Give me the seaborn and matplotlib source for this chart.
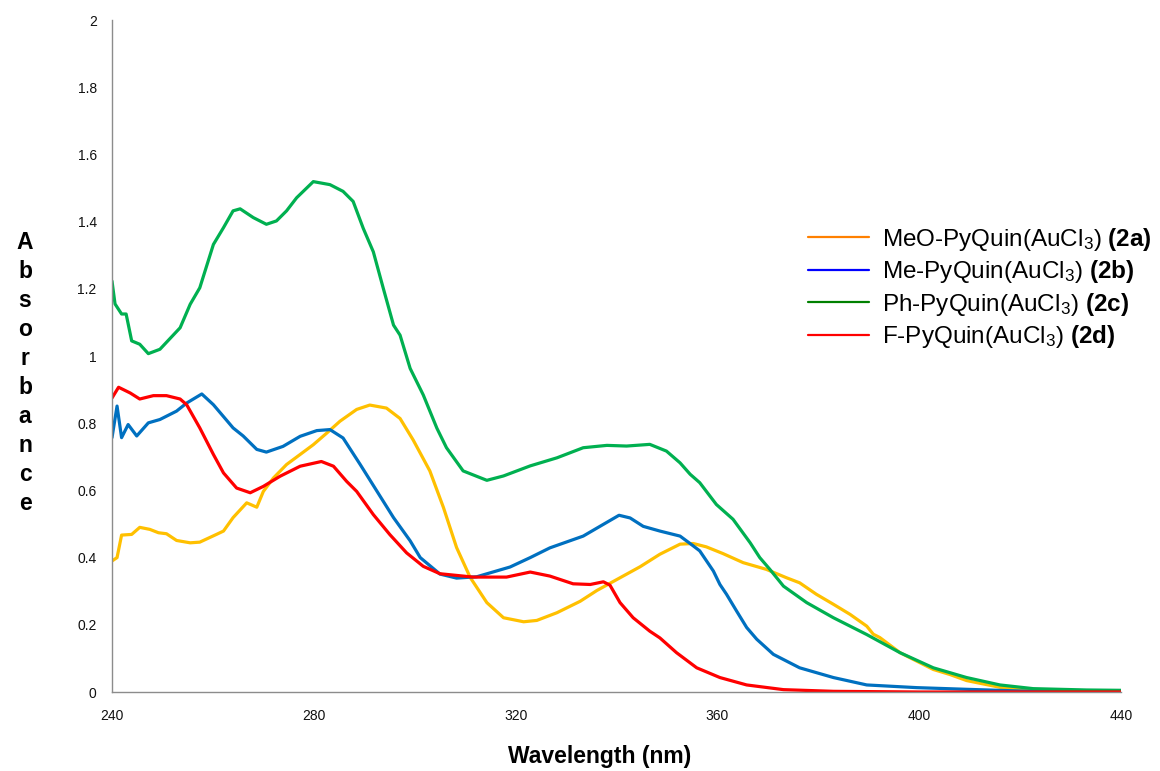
import numpy as np
import pandas as pd
import matplotlib
matplotlib.use("Agg")
import matplotlib.pyplot as plt
from matplotlib.lines import Line2D
import seaborn as sns

# ---------------- data ----------------
wl_2a = [240, 241, 241.9, 243.9, 245.5, 247.5, 249.2, 250.8, 252.8, 255.5, 257.4, 260.7, 262.1, 264.0,
         266.7, 268.7, 270.0, 272.0, 274.6, 277.3, 279.9, 282.6, 285.2, 288.5, 291.1, 294.4, 297.1,
         299.7, 303.0, 305.7, 308.3, 311.0, 314.3, 317.6, 321.6, 324.2, 328.2, 332.8, 336.1, 340.7,
         344.7, 348.6, 352.6, 355.2, 357.8, 361.1, 365.1, 369.7, 373.7, 376.3, 379.6, 383.0, 386.3,
         389.6, 390.9, 392.2, 396.2, 399.5, 402.8, 406.1, 409.4, 416.0, 422.6, 430, 440]
abs_2a = [0.39, 0.40, 0.467, 0.469, 0.49, 0.484, 0.474, 0.471, 0.451, 0.444, 0.446, 0.469, 0.479, 0.519,
          0.563, 0.550, 0.597, 0.637, 0.677, 0.707, 0.736, 0.771, 0.806, 0.841, 0.854, 0.845, 0.814,
          0.750, 0.658, 0.549, 0.430, 0.341, 0.266, 0.221, 0.209, 0.213, 0.236, 0.270, 0.302, 0.340,
          0.373, 0.410, 0.440, 0.442, 0.432, 0.412, 0.385, 0.365, 0.340, 0.325, 0.291, 0.261, 0.231,
          0.196, 0.172, 0.162, 0.117, 0.092, 0.067, 0.052, 0.034, 0.014, 0.005, 0.002, 0.001]

wl_2b = [240, 241, 241.9, 243.2, 244.9, 247.2, 249.5, 252.8, 254.8, 257.8, 260.1, 264.0, 266.0, 268.7,
         270.6, 273.9, 277.3, 280.6, 283.2, 285.8, 289.2, 292.5, 295.8, 299.1, 301.1, 305.0, 308.3,
         312.3, 318.9, 322.9, 326.8, 333.4, 337.4, 340.5, 342.7, 345.3, 348.6, 352.6, 355.2, 356.5,
         359.2, 360.5, 361.8, 363.8, 365.8, 367.8, 371.1, 376.3, 383.0, 389.6, 399.5, 409.4, 420, 440]
abs_2b = [0.757, 0.851, 0.757, 0.796, 0.762, 0.801, 0.811, 0.836, 0.860, 0.887, 0.855, 0.786, 0.762, 0.722,
          0.714, 0.731, 0.761, 0.778, 0.781, 0.756, 0.677, 0.598, 0.519, 0.450, 0.400, 0.351, 0.339,
          0.343, 0.372, 0.400, 0.429, 0.464, 0.499, 0.526, 0.518, 0.493, 0.479, 0.464, 0.435, 0.420,
          0.360, 0.320, 0.291, 0.241, 0.192, 0.157, 0.112, 0.072, 0.043, 0.021, 0.013, 0.008, 0.003, 0.001]

wl_2c = [240, 240.6, 241.9, 242.8, 243.9, 245.5, 247.2, 249.5, 253.5, 255.5, 257.4, 260.1, 262.1, 264.0,
         265.4, 268.0, 270.6, 272.6, 274.6, 276.6, 279.9, 283.2, 285.8, 287.8, 289.8, 291.8, 293.8,
         295.8, 297.1, 299.1, 301.7, 304.4, 306.3, 309.6, 314.3, 317.6, 322.9, 328.2, 333.4, 338.1,
         342.0, 346.6, 349.9, 352.6, 354.6, 356.5, 359.8, 363.1, 366.5, 368.4, 370.4, 373.1, 377.7,
         383.0, 389.6, 396.2, 402.8, 409.4, 416.0, 422.6, 433.2, 440]
abs_2c = [1.223, 1.155, 1.125, 1.125, 1.045, 1.035, 1.007, 1.020, 1.084, 1.154, 1.203, 1.332, 1.382, 1.432,
          1.438, 1.412, 1.392, 1.402, 1.432, 1.471, 1.519, 1.510, 1.490, 1.460, 1.380, 1.310, 1.200,
          1.092, 1.062, 0.963, 0.884, 0.785, 0.727, 0.658, 0.630, 0.643, 0.673, 0.697, 0.727, 0.734,
          0.732, 0.737, 0.717, 0.682, 0.648, 0.623, 0.558, 0.514, 0.444, 0.400, 0.365, 0.315, 0.266,
          0.221, 0.171, 0.117, 0.072, 0.043, 0.021, 0.010, 0.006, 0.005]

wl_2d = [240, 241.3, 243.6, 245.5, 248.2, 250.8, 253.5, 254.8, 257.4, 260.1, 262.1, 264.7, 267.4, 270.0,
         273.3, 277.3, 281.5, 283.9, 286.5, 288.5, 291.8, 295.1, 298.4, 301.7, 305.0, 311.6, 318.2,
         322.9, 326.8, 331.4, 334.8, 337.4, 338.7, 340.7, 343.3, 346.6, 348.6, 351.9, 355.9, 360.5,
         365.8, 373.1, 383.0, 400, 440]
abs_2d = [0.875, 0.907, 0.890, 0.872, 0.882, 0.882, 0.872, 0.855, 0.786, 0.707, 0.652, 0.607, 0.593, 0.612,
          0.642, 0.672, 0.686, 0.672, 0.627, 0.597, 0.528, 0.468, 0.414, 0.374, 0.352, 0.342, 0.342,
          0.357, 0.345, 0.322, 0.320, 0.328, 0.318, 0.266, 0.221, 0.181, 0.161, 0.117, 0.072, 0.043,
          0.021, 0.007, 0.002, 0.0, 0.0]

series_labels = ["MeO-PyQuin(AuCl$_3$) $\\mathbf{(2a)}$",
                 "Me-PyQuin(AuCl$_3$) $\\mathbf{(2b)}$",
                 "Ph-PyQuin(AuCl$_3$) $\\mathbf{(2c)}$",
                 "F-PyQuin(AuCl$_3$) $\\mathbf{(2d)}$"]
x_ticks = [240, 280, 320, 360, 400, 440]
y_ticks = [0, 0.2, 0.4, 0.6, 0.8, 1.0, 1.2, 1.4, 1.6, 1.8, 2.0]
y_tick_labels = ["0", "0.2", "0.4", "0.6", "0.8", "1", "1.2", "1.4", "1.6", "1.8", "2"]

curve_colors = ["#FFC000", "#0070C0", "#00B050", "#FF0000"]
legend_colors = ["#FF8000", "#0000FF", "#008000", "#FF0000"]

# ---------------- style ----------------
sns.set_style("white")
plt.rcParams['font.family'] = ['Liberation Sans', 'DejaVu Sans']
plt.rcParams['text.color'] = 'black'
plt.rcParams['mathtext.fontset'] = 'custom'
plt.rcParams['mathtext.rm'] = 'Liberation Sans'
plt.rcParams['mathtext.it'] = 'Liberation Sans:italic'
plt.rcParams['mathtext.bf'] = 'Liberation Sans:bold'

fig = plt.figure(figsize=(11.6, 7.71), dpi=100)
ax = fig.add_axes([112 / 1160, 1 - 692 / 771, (1121 - 112) / 1160, (692 - 20) / 771])

all_wl = [wl_2a, wl_2b, wl_2c, wl_2d]
all_abs = [abs_2a, abs_2b, abs_2c, abs_2d]
for wl, ab, col in zip(all_wl, all_abs, curve_colors):
    df = pd.DataFrame({"wl": wl, "abs": ab})
    sns.lineplot(data=df, x="wl", y="abs", color=col, linewidth=2.3, ax=ax,
                 legend=False, estimator=None, sort=False)

ax.set_xlim(240, 440)
ax.set_ylim(0, 2)
ax.set_xticks(x_ticks)
ax.set_xticklabels([str(t) for t in x_ticks])
ax.set_yticks(y_ticks)
ax.set_yticklabels(y_tick_labels)
ax.tick_params(axis='both', length=0, labelsize=10, labelcolor='#111111')
ax.tick_params(axis='x', pad=12)
ax.tick_params(axis='y', pad=11)
ax.set_xlabel("")
ax.set_ylabel("")
for s in ["top", "right"]:
    ax.spines[s].set_visible(False)
for s in ["left", "bottom"]:
    ax.spines[s].set_color("#8c8c8c")
    ax.spines[s].set_linewidth(1.0)

fig.text(600 / 1160, 1 - 757 / 771, "Wavelength (nm)", ha='center', va='center',
         fontsize=16.5, fontweight='bold', color='black')
fig.text(25 / 1160, 1 - 373 / 771, "\n".join("Absorbance"), ha='center', va='center',
         fontsize=16.5, fontweight='bold', linespacing=1.33, color='black')

handles = [Line2D([0], [0], color=c, linewidth=1.6) for c in legend_colors]
leg = fig.legend(handles, series_labels, loc='upper left',
                 bbox_to_anchor=(808 / 1160, 1 - 226 / 771), frameon=False,
                 fontsize=17.5, handlelength=2.5, handletextpad=0.55, labelspacing=0.22,
                 borderpad=0, borderaxespad=0)
for t in leg.get_texts():
    t.set_color('black')

fig.savefig("out.png", dpi=100)
